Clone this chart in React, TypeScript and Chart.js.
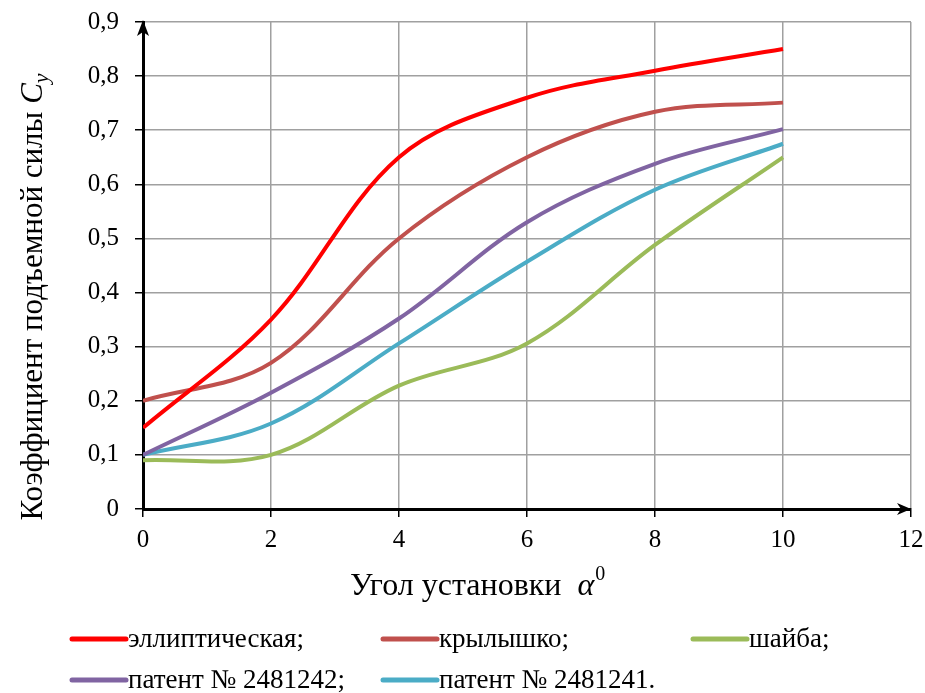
import React, { useEffect, useRef } from "react";
import { Chart, registerables } from "chart.js";
Chart.register(...registerables);

const angles = [0, 2, 4, 6, 8, 10];
const elliptical = [0.15, 0.35, 0.65, 0.76, 0.81, 0.85];
const wing = [0.2, 0.27, 0.5, 0.65, 0.734, 0.751];
const washer = [0.09, 0.1, 0.228, 0.306, 0.488, 0.65];
const patent242 = [0.1, 0.215, 0.352, 0.53, 0.638, 0.702];
const patent241 = [0.1, 0.158, 0.306, 0.457, 0.59, 0.675];
const seriesLabels = ["эллиптическая;", "крылышко;", "шайба;", "патент № 2481242;", "патент № 2481241."];
const seriesColors = ["#ff0000", "#c0504d", "#9bbb59", "#8064a2", "#4bacc6"];
const xTicks = [0, 2, 4, 6, 8, 10, 12];
const yTicks = [0, 0.1, 0.2, 0.3, 0.4, 0.5, 0.6, 0.7, 0.8, 0.9];
const yTitle = "Коэффициент подъемной силы ";
const xTitle = "Угол установки  ";

const FONT = "'Liberation Serif', 'DejaVu Serif', serif";

const decorPlugin = {
  id: "decor",
  afterDraw(chart: any) {
    const ctx = chart.ctx as CanvasRenderingContext2D;
    const a = chart.chartArea;
    ctx.save();
    // arrows
    ctx.fillStyle = "#000";
    ctx.beginPath();
    ctx.moveTo(a.left, a.top - 2);
    ctx.lineTo(a.left - 6, a.top + 14);
    ctx.lineTo(a.left, a.top + 10);
    ctx.lineTo(a.left + 6, a.top + 14);
    ctx.closePath();
    ctx.fill();
    ctx.beginPath();
    ctx.moveTo(a.right, a.bottom);
    ctx.lineTo(a.right - 14, a.bottom - 6);
    ctx.lineTo(a.right - 10, a.bottom);
    ctx.lineTo(a.right - 14, a.bottom + 6);
    ctx.closePath();
    ctx.fill();

    // y title
    ctx.save();
    ctx.translate(42, 297);
    ctx.rotate(-Math.PI / 2);
    ctx.textBaseline = "alphabetic";
    ctx.textAlign = "left";
    ctx.font = `31px ${FONT}`;
    const w1 = ctx.measureText(yTitle).width;
    ctx.font = `italic 31px ${FONT}`;
    const w2 = ctx.measureText("C").width;
    ctx.font = `italic 22px ${FONT}`;
    const w3 = ctx.measureText("y").width;
    const total = w1 + w2 + w3;
    let x = -total / 2;
    ctx.fillStyle = "#000";
    ctx.font = `31px ${FONT}`;
    ctx.fillText(yTitle, x, 0);
    x += w1;
    ctx.font = `italic 31px ${FONT}`;
    ctx.fillText("C", x, 0);
    x += w2;
    ctx.font = `italic 22px ${FONT}`;
    ctx.fillText("y", x, 6);
    ctx.restore();

    // x title
    ctx.textAlign = "left";
    ctx.textBaseline = "alphabetic";
    ctx.fillStyle = "#000";
    let xx = 350;
    ctx.font = `32px ${FONT}`;
    ctx.fillText(xTitle, xx, 595);
    xx += ctx.measureText(xTitle).width;
    ctx.font = `italic 32px ${FONT}`;
    ctx.fillText("α", xx, 595);
    xx += ctx.measureText("α").width + 1;
    ctx.font = `20px ${FONT}`;
    ctx.fillText("0", xx, 580);

    // legend
    const pos = [
      [72, 639],
      [383, 639],
      [693, 639],
      [72, 680],
      [383, 680],
    ];
    ctx.font = `27px ${FONT}`;
    ctx.textBaseline = "middle";
    chart.data.datasets.forEach((ds: any, i: number) => {
      const [lx, ly] = pos[i];
      ctx.strokeStyle = ds.borderColor;
      ctx.lineWidth = 5;
      ctx.lineCap = "round";
      ctx.beginPath();
      ctx.moveTo(lx, ly);
      ctx.lineTo(lx + 54, ly);
      ctx.stroke();
      ctx.fillStyle = "#000";
      ctx.fillText(ds.label, lx + 56, ly + 1);
    });
    ctx.restore();
  },
};

export default function App() {
  const ref = useRef<HTMLCanvasElement | null>(null);
  useEffect(() => {
    if (!ref.current) return;
    const series = [elliptical, wing, washer, patent242, patent241];
    const chart = new Chart(ref.current, {
      type: "line",
      data: {
        datasets: series.map((vals, i) => ({
          label: seriesLabels[i],
          data: angles.map((x, j) => ({ x, y: vals[j] })),
          borderColor: seriesColors[i],
          backgroundColor: seriesColors[i],
          borderWidth: 4,
          pointRadius: 0,
          tension: 0.35,
          fill: false,
        })),
      },
      options: {
        responsive: false,
        animation: false,
        layout: { padding: { left: 0, top: 22, right: 14, bottom: 0 } },
        plugins: { legend: { display: false }, tooltip: { enabled: false } },
        scales: {
          x: {
            type: "linear",
            min: 0,
            max: 12,
            afterBuildTicks: (s: any) => {
              s.ticks = xTicks.map((v) => ({ value: v }));
            },
            afterFit: (s: any) => {
              s.height = 184;
              s.paddingLeft = 0;
              s.paddingRight = 0;
            },
            grid: { color: "#a0a0a0", lineWidth: 1.5, tickColor: "#000", tickLength: 8 },
            border: { color: "#000", width: 3 },
            ticks: {
              color: "#000",
              padding: 8,
              maxRotation: 0,
              font: { family: FONT, size: 25 },
              callback: (v: any) => String(v),
            },
          },
          y: {
            type: "linear",
            min: 0,
            max: 0.9,
            afterBuildTicks: (s: any) => {
              s.ticks = yTicks.map((v) => ({ value: v }));
            },
            afterFit: (s: any) => {
              s.width = 143;
              s.paddingTop = 0;
              s.paddingBottom = 0;
            },
            grid: { color: "#a0a0a0", lineWidth: 1.5, tickColor: "#000", tickLength: 8 },
            border: { color: "#000", width: 3 },
            ticks: {
              color: "#000",
              padding: 16,
              font: { family: FONT, size: 25 },
              callback: (v: any) => (v === 0 ? "0" : Number(v).toFixed(1).replace(".", ",")),
            },
          },
        },
      },
      plugins: [decorPlugin],
    });
    return () => chart.destroy();
  }, []);
  return (
    <div style={{ position: "fixed", left: 0, top: 0, width: 925, height: 693, background: "#fff" }}>
      <canvas ref={ref} width={925} height={693} style={{ width: 925, height: 693 }} />
    </div>
  );
}
